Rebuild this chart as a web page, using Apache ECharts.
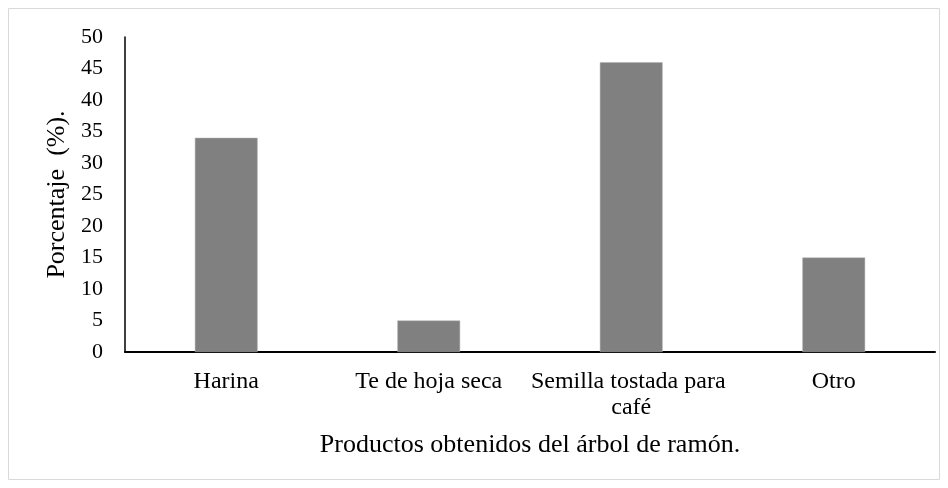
<!DOCTYPE html>
<html>
<head>
<meta charset="utf-8">
<script src="https://cdn.jsdelivr.net/npm/echarts@6/dist/echarts.min.js"></script>
<style>
  html, body { margin: 0; padding: 0; background: #fff; }
  #chart { width: 948px; height: 488px; }
</style>
</head>
<body>
<div id="chart"></div>
<script>
const categories = ['Harina', 'Te de hoja seca', 'Semilla tostada para café', 'Otro'];
const values = [34, 5, 46, 15];
const yMin = 0;
const yMax = 50;
const yStep = 5;

window.addEventListener('load', function () {
    let chart = echarts.init(document.getElementById('chart'));
    let font = '"Liberation Serif", "Times New Roman", serif';
    let option = {
        backgroundColor: '#fff',
        animation: false,
        graphic: [{
            type: 'rect',
            shape: { x: 8.5, y: 8.5, width: 931, height: 471 },
            style: { fill: 'none', stroke: '#d9d9d9', lineWidth: 1 }
        }],
        grid: { left: 125, right: 13, top: 37, bottom: 136 },
        xAxis: {
            type: 'category',
            data: categories,
            name: 'Productos obtenidos del árbol de ramón.',
            nameLocation: 'middle',
            nameGap: 80,
            nameTextStyle: { fontFamily: font, fontSize: 26, color: '#000' },
            axisLine: { lineStyle: { color: '#000', width: 2 } },
            axisTick: { show: false },
            axisLabel: {
                fontFamily: font, fontSize: 24, color: '#000', margin: 17,
                interval: 0, width: 202, overflow: 'break', lineHeight: 26
            }
        },
        yAxis: {
            type: 'value',
            min: yMin,
            max: yMax,
            interval: yStep,
            name: 'Porcentaje  (%).',
            nameLocation: 'middle',
            nameGap: 54,
            nameTextStyle: { fontFamily: font, fontSize: 26, color: '#000' },
            axisLine: { show: true, lineStyle: { color: '#000', width: 1.5 } },
            axisTick: { show: false },
            splitLine: { show: false },
            axisLabel: { fontFamily: font, fontSize: 22, color: '#000', margin: 22 }
        },
        series: [{
            type: 'bar',
            data: values,
            barWidth: '31%',
            itemStyle: { color: '#808080', borderColor: '#b0b0b0', borderWidth: 0.5 }
        }]
    };
    chart.setOption(option);
}, false);
</script>
</body>
</html>
